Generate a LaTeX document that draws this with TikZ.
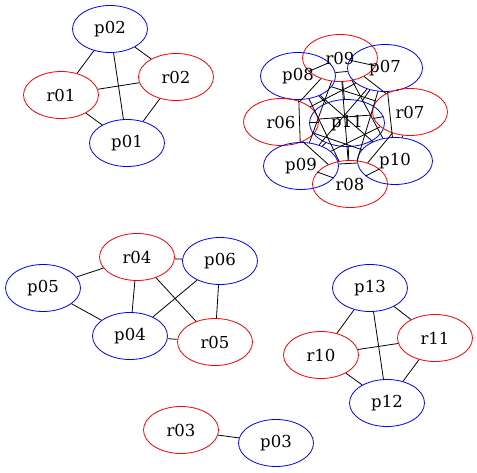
\documentclass[tikz,border=0pt]{standalone}
\usepackage{fontspec}
\setmainfont{DejaVu Serif}
\usetikzlibrary{shapes.geometric}
\begin{document}
\begin{tikzpicture}[x=1pt,y=-1pt,
  nd/.style={ellipse,draw,line width=0.8pt,minimum width=75pt,minimum height=47pt,inner sep=0pt,font=\fontsize{16.5}{19}\selectfont},
  pn/.style={nd,draw=blue},
  rn/.style={nd,draw=red},
  ed/.style={draw=black,line width=0.8pt}]
\useasboundingbox (0,0) rectangle (477,473);
% cluster 1
\node[pn] (p02) at (110,29) {p02};
\node[rn] (r01) at (61,95) {r01};
\node[rn] (r02) at (176,77) {r02};
\node[pn] (p01) at (127,143) {p01};
\foreach \a/\b in {p02/r01,p02/r02,p02/p01,r01/r02,r01/p01,r02/p01}
  \draw[ed] (\a) -- (\b);
% cluster 2
\node[rn] (r09) at (340,58) {r09};
\node[pn] (p07) at (385,68) {p07};
\node[pn] (p08) at (298,76) {p08};
\node[rn] (r06) at (281,122) {r06};
\node[pn] (p11) at (347,123) {p11};
\node[rn] (r07) at (410,112) {r07};
\node[pn] (p09) at (301,166) {p09};
\node[rn] (r08) at (350,184) {r08};
\node[pn] (p10) at (395,161) {p10};
\foreach \a/\b in {r09/p07,r09/p08,r09/r06,r09/p11,r09/r07,r09/p09,r09/r08,r09/p10,
  p07/p08,p07/r06,p07/p11,p07/r07,p07/p09,p07/r08,p07/p10,
  p08/r06,p08/p11,p08/r07,p08/p09,p08/r08,p08/p10,
  r06/p11,r06/r07,r06/p09,r06/r08,r06/p10,
  p11/r07,p11/p09,p11/r08,p11/p10,
  r07/p09,r07/r08,r07/p10,
  p09/r08,p09/p10,
  r08/p10}
  \draw[ed] (\a) -- (\b);
% cluster 3
\node[rn] (r04) at (137,257) {r04};
\node[pn] (p06) at (220,261) {p06};
\node[pn] (p05) at (43,288) {p05};
\node[pn] (p04) at (130,336) {p04};
\node[rn] (r05) at (215,342) {r05};
\foreach \a/\b in {p05/r04,p05/p04,r04/p06,r04/p04,r04/r05,p04/p06,p04/r05,p06/r05}
  \draw[ed] (\a) -- (\b);
% cluster 4
\node[pn] (p13) at (370,288) {p13};
\node[rn] (r11) at (435,338) {r11};
\node[rn] (r10) at (321,355) {r10};
\node[pn] (p12) at (387,403) {p12};
\foreach \a/\b in {p13/r11,p13/r10,p13/p12,r10/r11,r10/p12,r11/p12}
  \draw[ed] (\a) -- (\b);
% cluster 5
\node[rn] (r03) at (181,430) {r03};
\node[pn] (p03) at (276,443) {p03};
\draw[ed] (r03) -- (p03);
\end{tikzpicture}
\end{document}
